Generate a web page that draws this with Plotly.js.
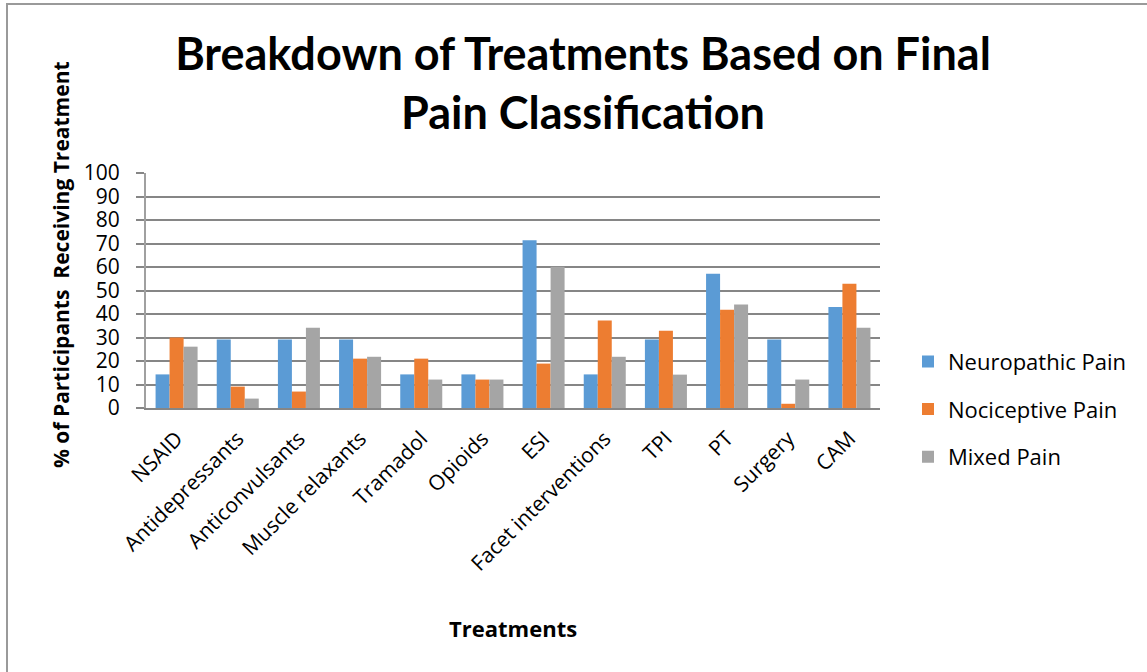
<!DOCTYPE html>
<html>
<head>
<meta charset="utf-8">
<script src="https://cdn.plot.ly/plotly-3.0.1.min.js"></script>
<style>
  html, body { margin: 0; padding: 0; background: #fff; }
  #wrap { position: relative; width: 1147px; height: 672px; }
  #chart { position: absolute; left: 0; top: 0; width: 1147px; height: 672px; }
  #frame { position: absolute; left: 6px; top: 3px; right: 0; bottom: 0;
           border-top: 2px solid #9a9a9a; border-left: 2px solid #9a9a9a; pointer-events: none; }
</style>
</head>
<body>
<div id="wrap">
  <div id="chart"></div>
  <div id="frame"></div>
</div>
<script>
const categories = ["NSAID", "Antidepressants", "Anticonvulsants", "Muscle relaxants", "Tramadol", "Opioids",
                    "ESI", "Facet interventions", "TPI", "PT", "Surgery", "CAM"];
const neuropathic = [14.3, 29.2, 29.2, 29.2, 14.3, 14.3, 71.4, 14.3, 29.2, 57.1, 29.2, 43.0];
const nociceptive = [30.0, 9.1, 7.0, 21.0, 21.0, 12.1, 18.9, 37.2, 32.9, 41.8, 1.8, 52.9];
const mixed = [26.1, 4.0, 34.2, 21.8, 12.1, 12.1, 60.1, 21.8, 14.2, 44.0, 12.1, 34.2];
const seriesNames = ["Neuropathic Pain", "Nociceptive Pain", "Mixed Pain"];
const yTicks = [0, 10, 20, 30, 40, 50, 60, 70, 80, 90, 100];

const TFONT = "Lato, 'Open Sans', sans-serif";
const FONT = "'Open Sans', Lato, sans-serif";
const colors = ["#5b9bd5", "#ed7d31", "#a5a5a5"];
const values = [neuropathic, nociceptive, mixed];

const traces = values.map((v, i) => ({
  type: "bar",
  name: seriesNames[i],
  x: categories,
  y: v,
  legendgroup: "g" + i,
  marker: { color: colors[i], line: { width: 0 } },
  hoverinfo: "x+y+name"
}));

const layout = {
  width: 1147,
  height: 672,
  margin: { l: 146, r: 267, t: 173, b: 264 },
  paper_bgcolor: "rgba(0,0,0,0)",
  plot_bgcolor: "#ffffff",
  barmode: "group",
  bargap: 0.313,
  bargroupgap: 0,
  font: { family: FONT, color: "#000" },
  title: {
    text: "Breakdown of Treatments Based on Final<br>Pain Classification",
    font: { family: TFONT, size: 45, weight: 700, color: "#000" },
    x: 583 / 1147, xref: "container", xanchor: "center",
    y: 1 - 70 / 672, yref: "container", yanchor: "middle"
  },
  xaxis: {
    type: "category",
    tickangle: -45,
    tickfont: { family: FONT, size: 21, color: "#000" },
    ticklabelstandoff: 8,
    showline: true, linecolor: "#868686", linewidth: 2,
    ticks: "", showgrid: false,
    automargin: false
  },
  yaxis: {
    range: [0, 100],
    tickvals: yTicks,
    ticktext: yTicks.map(String),
    tickfont: { family: FONT, size: 21, color: "#000" },
    ticks: "outside", ticklen: 8, tickcolor: "#868686", tickwidth: 2,
    ticklabelstandoff: 12,
    showgrid: true, gridcolor: "#868686", gridwidth: 2,
    showline: true, linecolor: "#a0a0a0", linewidth: 2,
    zeroline: false,
    automargin: false
  },
  legend: {
    x: (908 - 146) / 734, xanchor: "left",
    y: -0.005, yanchor: "middle",
    traceorder: "grouped",
    tracegroupgap: 16,
    font: { family: FONT, size: 22, color: "#000" },
    bgcolor: "rgba(0,0,0,0)"
  },
  annotations: [{
    text: "% of Participants  Receiving Treatment",
    xref: "paper", yref: "paper",
    x: (61 - 146) / 734, y: (408 - 265) / 235,
    xanchor: "center", yanchor: "middle",
    textangle: -90, showarrow: false,
    font: { family: FONT, size: 21, weight: 700, color: "#000" }
  }, {
    text: "Treatments",
    xref: "paper", yref: "paper",
    x: 0.5, y: (408 - 628) / 235,
    xanchor: "center", yanchor: "middle",
    showarrow: false,
    font: { family: FONT, size: 22, weight: 700, color: "#000" }
  }]
};

Plotly.newPlot("chart", traces, layout, { displayModeBar: false, staticPlot: true });
</script>
</body>
</html>
